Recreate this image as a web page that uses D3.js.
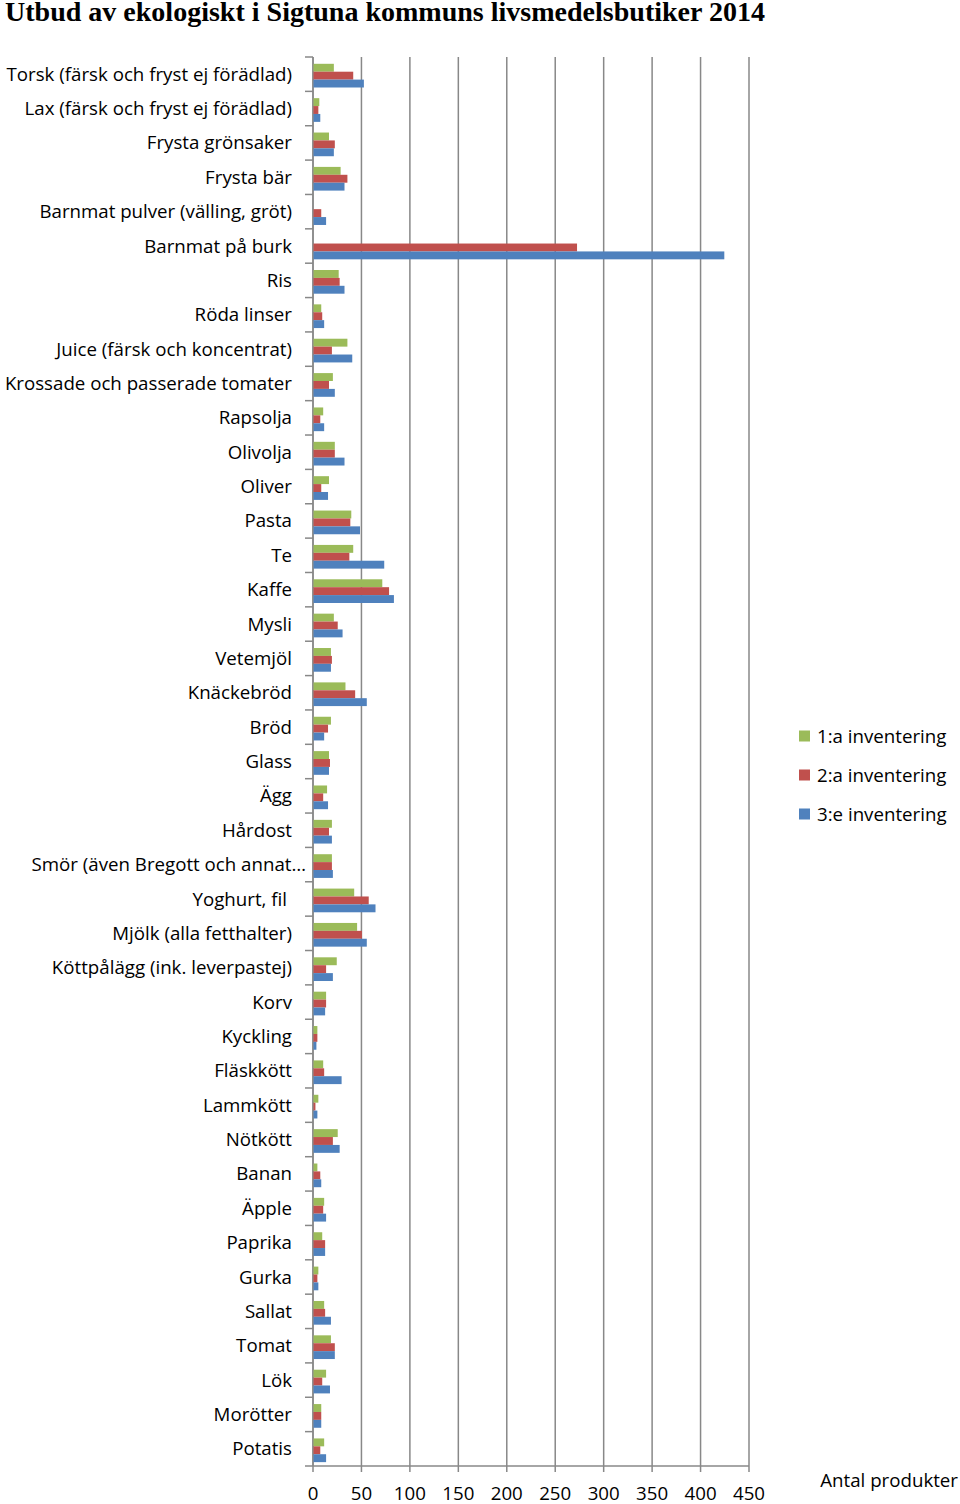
<!DOCTYPE html>
<html><head><meta charset="utf-8">
<script src="https://cdn.jsdelivr.net/npm/d3@7"></script>
<style>body{margin:0;background:#fff}svg{display:block}</style>
</head><body>
<svg id="c" width="960" height="1504"></svg>
<script>
const categories = ["Torsk (färsk och fryst ej förädlad)","Lax (färsk och fryst ej förädlad)","Frysta grönsaker","Frysta bär","Barnmat pulver (välling, gröt)","Barnmat på burk","Ris","Röda linser","Juice (färsk och koncentrat)","Krossade och passerade tomater","Rapsolja","Olivolja","Oliver","Pasta","Te","Kaffe","Mysli","Vetemjöl","Knäckebröd","Bröd","Glass","Ägg","Hårdost","Smör (även Bregott och annat…","Yoghurt, fil","Mjölk (alla fetthalter)","Köttpålägg (ink. leverpastej)","Korv","Kyckling","Fläskkött","Lammkött","Nötkött","Banan","Äpple","Paprika","Gurka","Sallat","Tomat","Lök","Morötter","Potatis"];
const series1 = [21,6,16,28,0,0,26,8,35,20,10,22,16,39,41,71,21,18,33,18,16,14,19,19,42,45,24,13,4,10,5,25,4,11,9,5,11,18,13,8,11];
const series2 = [41,5,22,35,8,272,27,9,19,16,7,22,8,38,37,78,25,19,43,15,17,10,16,19,57,50,13,13,4,11,2,20,7,10,12,4,12,22,9,8,7];
const series3 = [52,7,21,32,13,424,32,11,40,22,11,32,15,48,73,83,30,18,55,11,16,15,19,20,64,55,20,12,3,29,4,27,8,13,12,5,18,22,17,8,13];
const seriesNames = ["1:a inventering","2:a inventering","3:e inventering"];
const xTicks = [0,50,100,150,200,250,300,350,400,450];
const title = "Utbud av ekologiskt i Sigtuna kommuns livsmedelsbutiker 2014";
const xTitle = "Antal produkter";

const colors = ["#9BBB59","#C0504D","#4F81BD"];
const font = "'Open Sans', sans-serif";
const fs = 18.7;
const svg = d3.select("#c");
const x = d3.scaleLinear().domain([0,450]).range([313,749]);
const y = d3.scaleBand().domain(categories).range([57,1466]).paddingInner(0).paddingOuter(0);
const inner = d3.scaleBand().domain([0,1,2]).range([6.8, 30.5]).padding(0);

svg.append("text").attr("x",5).attr("y",21).text(title)
  .attr("font-family","'Liberation Serif', serif").attr("font-weight","bold").attr("font-size",27)
  .attr("textLength",760).attr("lengthAdjust","spacingAndGlyphs").attr("fill","#000");

const grid = svg.append("g");
const gs = "#888";
xTicks.forEach(t=>{
  grid.append("line").attr("x1",x(t)).attr("x2",x(t)).attr("y1",57).attr("y2",1472)
    .attr("stroke",gs).attr("stroke-width",1.5);
});
grid.append("line").attr("x1",313).attr("x2",749).attr("y1",1466).attr("y2",1466).attr("stroke",gs).attr("stroke-width",1.5);
grid.append("line").attr("x1",313).attr("x2",313).attr("y1",57).attr("y2",1466).attr("stroke",gs).attr("stroke-width",1.5);
categories.forEach((c)=>{
  grid.append("line").attr("x1",305).attr("x2",313).attr("y1",y(c)).attr("y2",y(c)).attr("stroke",gs).attr("stroke-width",1.5);
});
grid.append("line").attr("x1",305).attr("x2",313).attr("y1",1466).attr("y2",1466).attr("stroke",gs).attr("stroke-width",1.5);

const all = [series1,series2,series3];
all.forEach((s,si)=>{
  svg.append("g").selectAll("rect").data(s).join("rect")
    .attr("x",x(0)+0.5)
    .attr("y",(d,i)=>y(categories[i])+inner(si))
    .attr("width",d=>Math.max(0,x(d)-x(0)))
    .attr("height",inner.bandwidth())
    .attr("fill",colors[si]);
});

svg.append("g").selectAll("text").data(categories).join("text")
  .attr("x",d=> d.startsWith("Smör") ? 306 : (d.startsWith("Yoghurt") ? 287 : 292))
  .attr("y",d=>y(d)+y.bandwidth()/2)
  .attr("dy","0.35em").attr("text-anchor","end")
  .attr("font-family",font).attr("font-size",fs).attr("fill","#000").text(d=>d);

svg.append("g").selectAll("text").data(xTicks).join("text")
  .attr("x",d=>x(d)).attr("y",1493).attr("dy","0.35em").attr("text-anchor","middle")
  .attr("font-family",font).attr("font-size",fs).attr("fill","#000").text(d=>d);

svg.append("text").attr("x",958).attr("y",1480).attr("dy","0.35em").attr("text-anchor","end")
  .attr("font-family",font).attr("font-size",fs).text(xTitle);

seriesNames.forEach((n,i)=>{
  const ly = 736 + i*39;
  svg.append("rect").attr("x",799).attr("y",ly-5.5).attr("width",11).attr("height",11).attr("fill",colors[i]);
  svg.append("text").attr("x",817).attr("y",ly).attr("dy","0.35em")
    .attr("font-family",font).attr("font-size",fs).text(n);
});
</script>
</body></html>
